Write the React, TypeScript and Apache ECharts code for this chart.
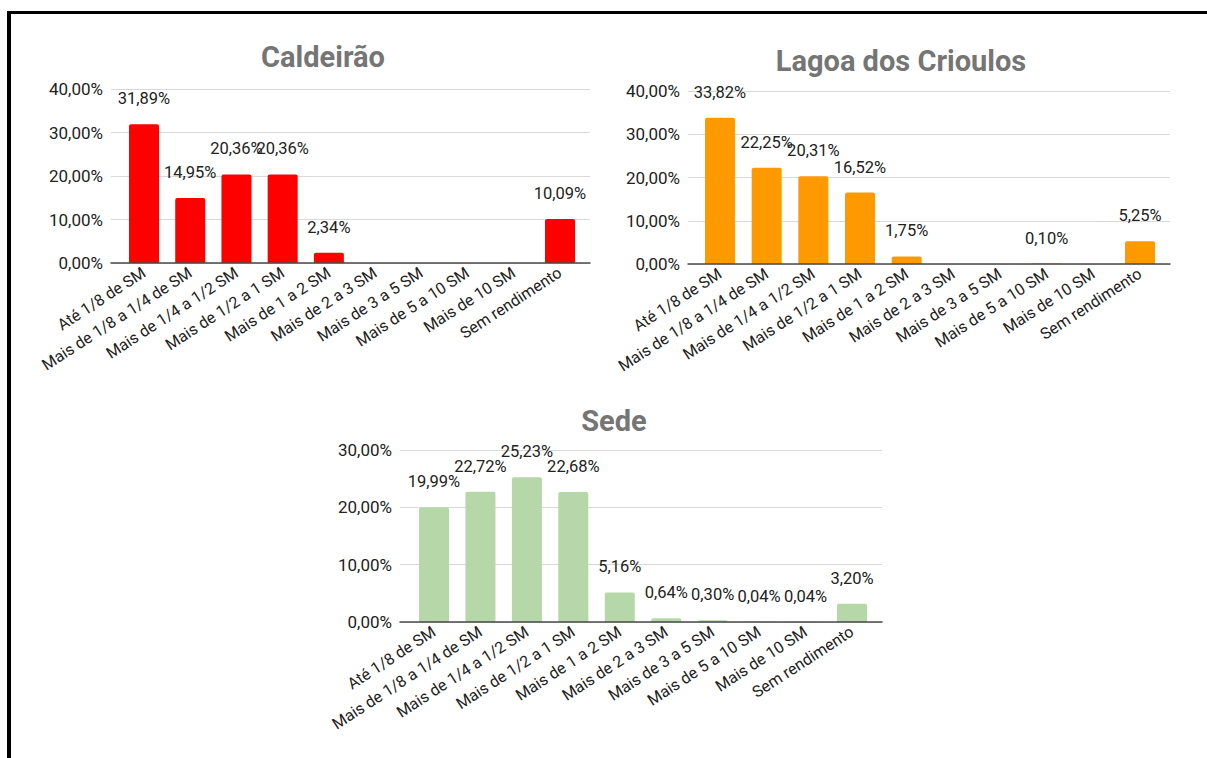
import React, { useEffect, useRef } from "react";
import * as echarts from "echarts";

const categories = [
  "Até 1/8 de SM",
  "Mais de 1/8 a 1/4 de SM",
  "Mais de 1/4 a 1/2 SM",
  "Mais de 1/2 a 1 SM",
  "Mais de 1 a 2 SM",
  "Mais de 2 a 3 SM",
  "Mais de 3 a 5 SM",
  "Mais de 5 a 10 SM",
  "Mais de 10 SM",
  "Sem rendimento",
];

const caldeiraoValues = [31.89, 14.95, 20.36, 20.36, 2.34, 0, 0, 0, 0, 10.09];
const lagoaValues = [33.82, 22.25, 20.31, 16.52, 1.75, 0, 0, 0.1, 0, 5.25];
const sedeValues = [19.99, 22.72, 25.23, 22.68, 5.16, 0.64, 0.3, 0.04, 0.04, 3.2];

const titles = ["Caldeirão", "Lagoa dos Crioulos", "Sede"];
const yMaxes = [40, 40, 30];
const colors = ["#ff0000", "#ff9900", "#b6d7a8"];

const W = 1207;
const H = 758;

// layout in pixels
const layouts = [
  { gx0: 111, gx1: 590, top: 89, bottom: 263, c0: 144, c9: 560, tx: 323, ty: 57 },
  { gx0: 688, gx1: 1170, top: 91, bottom: 264, c0: 720, c9: 1140, tx: 901, ty: 61 },
  { gx0: 400, gx1: 882, top: 450, bottom: 622, c0: 434, c9: 852, tx: 614, ty: 421 },
];

const FONT = "Roboto, 'Noto Sans', sans-serif";

const fmt = (v: number) => v.toFixed(2).replace(".", ",") + "%";

export default function App() {
  const ref = useRef<HTMLDivElement>(null);

  useEffect(() => {
    if (!ref.current) return;
    const chart = echarts.init(ref.current, null, { renderer: "svg" });
    const seriesData = [caldeiraoValues, lagoaValues, sedeValues];
    const grids: any[] = [];
    const xAxes: any[] = [];
    const yAxes: any[] = [];
    const series: any[] = [];
    const graphics: any[] = [];

    layouts.forEach((L, i) => {
      const step = (L.c9 - L.c0) / 9;
      const bandLeft = L.c0 - step / 2;
      grids.push({
        left: L.gx0,
        width: L.gx1 - L.gx0,
        top: L.top,
        height: L.bottom - L.top,
        containLabel: false,
      });
      grids.push({
        left: bandLeft,
        width: step * 10,
        top: L.top,
        height: L.bottom - L.top,
        containLabel: false,
      });
      const gA = i * 2;
      const gB = i * 2 + 1;
      xAxes.push({
        type: "category",
        gridIndex: gA,
        data: categories,
        axisLabel: { show: false },
        axisTick: { show: false },
        axisLine: { show: true, lineStyle: { color: "#4a4a4a", width: 1.5 } },
        z: 3,
      });
      xAxes.push({
        type: "category",
        gridIndex: gB,
        data: categories,
        axisLine: { show: false },
        axisTick: { show: false },
        axisLabel: {
          rotate: 33,
          interval: 0,
          margin: 8,
          fontFamily: FONT,
          fontSize: 16,
          color: "#222222",
        },
      });
      yAxes.push({
        type: "value",
        gridIndex: gA,
        min: 0,
        max: yMaxes[i],
        interval: 10,
        axisLine: { show: false },
        axisTick: { show: false },
        splitLine: { show: true, lineStyle: { color: "#d9d9d9", width: 1 } },
        axisLabel: {
          margin: 8,
          fontFamily: FONT,
          fontSize: 17,
          color: "#222222",
          formatter: (v: number) => fmt(v),
        },
      });
      yAxes.push({
        type: "value",
        gridIndex: gB,
        min: 0,
        max: yMaxes[i],
        interval: 10,
        show: false,
        splitLine: { show: false },
      });
      series.push({
        type: "bar",
        name: titles[i],
        xAxisIndex: gB,
        yAxisIndex: gB,
        data: seriesData[i],
        barWidth: 30,
        itemStyle: { color: colors[i], borderRadius: [2, 2, 0, 0] },
        label: {
          show: true,
          position: "top",
          distance: 17,
          fontFamily: FONT,
          fontSize: 16.5,
          color: "#222222",
          formatter: (p: any) => (p.value === 0 ? "" : fmt(p.value)),
        },
        z: 2,
      });
      graphics.push({
        type: "text",
        x: L.tx,
        y: L.ty,
        style: {
          text: titles[i],
          font: `bold 29px ${FONT}`,
          fill: "#757575",
          align: "center",
          verticalAlign: "middle",
        },
      });
    });

    chart.setOption({
      animation: false,
      backgroundColor: "#ffffff",
      grid: grids,
      xAxis: xAxes,
      yAxis: yAxes,
      series,
      graphic: graphics,
    });
    return () => chart.dispose();
  }, []);

  return (
    <div
      style={{
        position: "fixed",
        left: 0,
        top: 0,
        width: W,
        height: H,
        background: "#ffffff",
        overflow: "hidden",
      }}
    >
      <div ref={ref} style={{ position: "absolute", left: 0, top: 0, width: W, height: H }} />
      <div style={{ position: "absolute", left: 7, top: 11, width: W - 7, height: 3, background: "#000" }} />
      <div style={{ position: "absolute", left: 7, top: 11, width: 4, height: H - 11, background: "#000" }} />
    </div>
  );
}
